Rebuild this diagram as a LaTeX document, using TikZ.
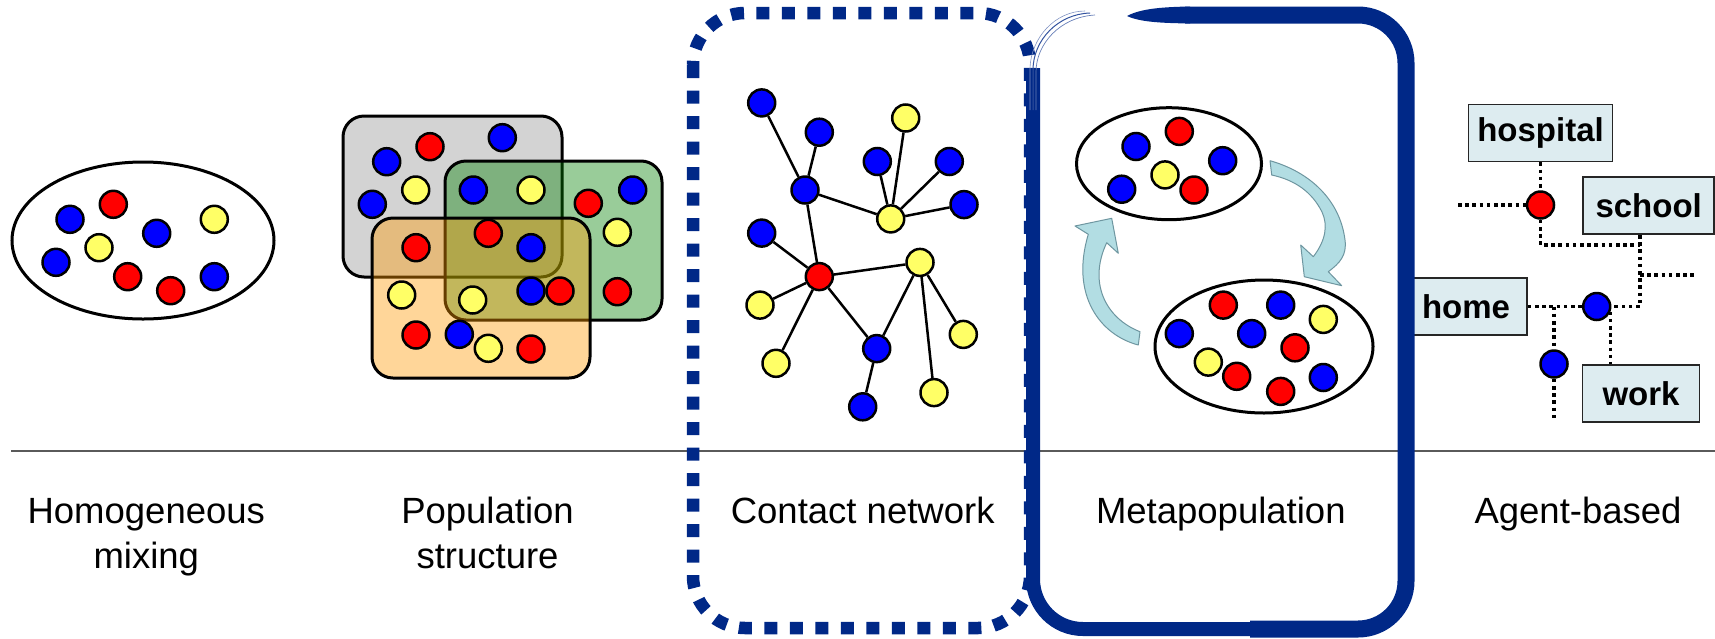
\documentclass[tikz,border=0pt]{standalone}
\usepackage{fontspec}
\setmainfont{Liberation Sans}
\usetikzlibrary{shapes.geometric}
\definecolor{navy}{RGB}{0,40,135}
\definecolor{dblue}{RGB}{0,0,255}
\definecolor{dred}{RGB}{255,0,0}
\definecolor{dyel}{RGB}{255,255,102}
\definecolor{grayfill}{RGB}{211,211,211}
\definecolor{greenfill}{RGB}{0,128,0}
\definecolor{orangefill}{RGB}{255,153,0}
\definecolor{arrowfill}{RGB}{178,221,227}
\definecolor{arrowline}{RGB}{110,150,160}
\definecolor{boxfill}{RGB}{221,236,240}
\definecolor{axisgray}{RGB}{90,90,90}
\begin{document}
\begin{tikzpicture}[x=1pt,y=-1pt,
 ball/.style={circle, draw=black, line width=2.5pt, minimum size=27pt, inner sep=0pt},
 bd/.style={ball, fill=dblue}, rd/.style={ball, fill=dred}, yd/.style={ball, fill=dyel},
 popbox/.style={draw=black, line width=3pt, rounded corners=21pt},
 pool/.style={ellipse, draw=black, line width=3pt, inner sep=0pt},
 link/.style={draw=black, line width=2.5pt},
 site/.style={draw=black!85, line width=1.6pt, fill=boxfill, inner sep=0pt, minimum height=57pt, font=\fontsize{33pt}{38pt}\selectfont\bfseries},
 road/.style={draw=black, line width=3.6pt, dash pattern=on 3.6pt off 3.6pt},
 modelname/.style={font=\fontsize{36.5pt}{45pt}\selectfont, anchor=base, inner sep=0pt},
 flowarrow/.style={fill=arrowfill, draw=arrowline, line width=1pt, line join=round}
]
\useasboundingbox (0,0) rectangle (1715,638);

% axis line
\coordinate (axL) at (11,450.7);
\coordinate (axR) at (1715,450.7);
\draw[axisgray, line width=2pt] (axL) -- (axR);

% ---------- Homogeneous mixing ----------
\node[pool, minimum width=262pt, minimum height=157pt] (hpool) at (143,240.5) {};
\node[bd] (h1) at (70,219.3) {};
\node[rd] (h2) at (113.3,204.3) {};
\node[bd] (h3) at (156.7,233.3) {};
\node[yd] (h4) at (214.3,219.3) {};
\node[yd] (h5) at (99,247.7) {};
\node[bd] (h6) at (56,262.3) {};
\node[rd] (h7) at (127.7,276.7) {};
\node[rd] (h8) at (170.7,290.7) {};
\node[bd] (h9) at (214.3,276.7) {};

% ---------- Population structure ----------
\draw[popbox, fill=grayfill] (343,116) rectangle (562,277);
\draw[popbox, fill=greenfill, fill opacity=0.4] (445,161) rectangle (662,320);
\draw[popbox, fill=orangefill, fill opacity=0.4] (372,218) rectangle (590,378);
\node[bd] (p1) at (386.7,161.7) {};
\node[rd] (p2) at (430,146.7) {};
\node[bd] (p3) at (502.3,137.7) {};
\node[bd] (p4) at (372.3,204.3) {};
\node[yd] (p5) at (415.7,190) {};
\node[bd] (p6) at (473.3,190) {};
\node[yd] (p7) at (531,190) {};
\node[rd] (p8) at (588.3,203.3) {};
\node[bd] (p9) at (632.7,190) {};
\node[yd] (p10) at (617.3,232.3) {};
\node[rd] (p11) at (617.3,291.7) {};
\node[rd] (p12) at (416,247.7) {};
\node[rd] (p13) at (488.3,233.3) {};
\node[bd] (p14) at (531,247.7) {};
\node[yd] (p15) at (401.7,295) {};
\node[yd] (p16) at (472.7,300) {};
\node[bd] (p17) at (531,291) {};
\node[rd] (p18) at (560,291) {};
\node[rd] (p19) at (416,335) {};
\node[bd] (p20) at (459.3,334.3) {};
\node[yd] (p21) at (488.3,348.3) {};
\node[rd] (p22) at (531,349) {};

% ---------- Contact network ----------
\node[bd] (n1) at (761.7,102.9) {};
\node[bd] (n2) at (819.3,132.2) {};
\node[bd] (n3) at (805,190) {};
\node[yd] (n4) at (905.7,118) {};
\node[bd] (n5) at (877.3,161.5) {};
\node[bd] (n6) at (949.3,161.5) {};
\node[bd] (n7) at (964,204.6) {};
\node[yd] (n8) at (890.7,218.9) {};
\node[bd] (n9) at (761.7,233.1) {};
\node[rd] (n10) at (819.3,276.6) {};
\node[yd] (n11) at (920,262.4) {};
\node[yd] (n12) at (760,305.1) {};
\node[yd] (n13) at (776,363.3) {};
\node[bd] (n14) at (876.7,348.6) {};
\node[bd] (n15) at (862.7,406.8) {};
\node[yd] (n16) at (963.3,334.4) {};
\node[yd] (n17) at (934,392.6) {};
\foreach \a/\b in {n1/n3,n2/n3,n3/n8,n3/n10,n4/n8,n5/n8,n6/n8,n7/n8,n9/n10,n10/n11,n10/n12,n10/n13,n10/n14,n14/n15,n14/n11,n11/n16,n11/n17}
  \draw[link] (\a) -- (\b);

% ---------- Metapopulation ----------
\draw[flowarrow] (1270,160.7) .. controls (1310,172) and (1340,200) .. (1345,240) .. controls (1347,255) and (1340,263) .. (1328.3,271.7) -- (1341.7,285.7) -- (1304.3,276.7) -- (1300.7,245) -- (1313.3,256.7) .. controls (1326,240) and (1328,225) .. (1322,212) .. controls (1312,192) and (1295,180) .. (1271.7,175) -- cycle;
\draw[flowarrow] (1138.3,345) .. controls (1100,335) and (1070,295) .. (1088.3,234.3) -- (1075,226) -- (1111.7,218.3) -- (1118.3,253.3) -- (1106.7,242.7) .. controls (1088,282) and (1105,318) .. (1140,331.7) -- cycle;
\node[pool, minimum width=185pt, minimum height=112pt] (mtop) at (1169,163.7) {};
\node[pool, minimum width=218pt, minimum height=133pt] (mbot) at (1264,346.5) {};
\node[bd] (m1) at (1136,146.5) {};
\node[rd] (m2) at (1179.3,131.4) {};
\node[bd] (m3) at (1222.7,160.7) {};
\node[bd] (m4) at (1121.7,189.2) {};
\node[yd] (m5) at (1165,174.9) {};
\node[rd] (m6) at (1194,190) {};
\node[rd] (m7) at (1223.3,305.1) {};
\node[bd] (m8) at (1280.7,305.1) {};
\node[yd] (m9) at (1323.3,319.4) {};
\node[bd] (m10) at (1179.3,333.6) {};
\node[bd] (m11) at (1251.7,333.6) {};
\node[rd] (m12) at (1295,347.8) {};
\node[yd] (m13) at (1208.3,362.1) {};
\node[rd] (m14) at (1236.7,376.3) {};
\node[rd] (m15) at (1280.7,391.4) {};
\node[bd] (m16) at (1323.3,377.5) {};

% ---------- Agent-based ----------
\node[site, minimum width=144pt] (hosp) at (1540.5,133) {hospital};
\node[site, minimum width=131pt] (school) at (1648.7,205.7) {school};
\node[site, minimum width=122pt] (home) at (1466,306.5) {home};
\node[site, minimum width=117pt] (work) at (1641,393.3) {work};
\node[rd] (r1) at (1540.5,205) {};
\node[bd] (b1) at (1596.7,306.5) {};
\node[bd] (b2) at (1554,364) {};
\coordinate (eL) at (1458,205);
\coordinate (j1) at (1640,245);
\coordinate (j3) at (1640,275);
\coordinate (eR) at (1697,275);
\coordinate (j4) at (1554,306.5);
\coordinate (eB) at (1554,418);
\draw[road] (hosp) -- (r1);
\draw[road] (eL) -- (r1);
\draw[road] (r1) |- (j1);
\draw[road] (school.south -| j1) |- (b1);
\draw[road] (j3) -- (eR);
\draw[road] (home) -- (b1);
\draw[road] (j4) -- (b2);
\draw[road] (b2) -- (eB);
\draw[road] (b1.-20) -- (b1.-20 |- work.north);

% ---------- Labels ----------
\node[modelname] (lab1) at (146.3,523) {\begin{tabular}[t]{@{}c@{}}Homogeneous\\mixing\end{tabular}};
\node[modelname] (lab2) at (487.5,523) {\begin{tabular}[t]{@{}c@{}}Population\\structure\end{tabular}};
\node[modelname] (lab3) at (862.7,523) {Contact network};
\node[modelname] (lab4) at (1220.8,523) {Metapopulation};
\node[modelname] (lab5) at (1578,523) {Agent-based};

% ---------- Frames ----------
\draw[navy, line width=12.5pt, dash pattern=on 13pt off 12.5pt, rounded corners=52pt] (693,13) rectangle (1030,628);
\draw[navy, line width=17pt, rounded corners=48pt] (1185,15) -- (1406,15) -- (1406,629) -- (1250,629);
\draw[navy, line width=14pt, rounded corners=50pt] (1260,629) -- (1033,629) -- (1033,68);
\fill[navy] (1127,16) .. controls (1140,9) and (1160,7) .. (1190,6.5) -- (1190,23.5) .. controls (1160,23) and (1140,22) .. (1127,16) -- cycle;
\draw[navy!80, line width=1pt] (1033,110) -- (1033,70) .. controls (1033,40) and (1058,14) .. (1090,13);
\draw[navy!60, line width=0.7pt] (1036,110) -- (1036,72) .. controls (1036,44) and (1060,17) .. (1095,15);
\draw[navy!50, line width=0.6pt] (1030,110) -- (1030,68) .. controls (1031,38) and (1055,11) .. (1085,11);
\end{tikzpicture}
\end{document}
